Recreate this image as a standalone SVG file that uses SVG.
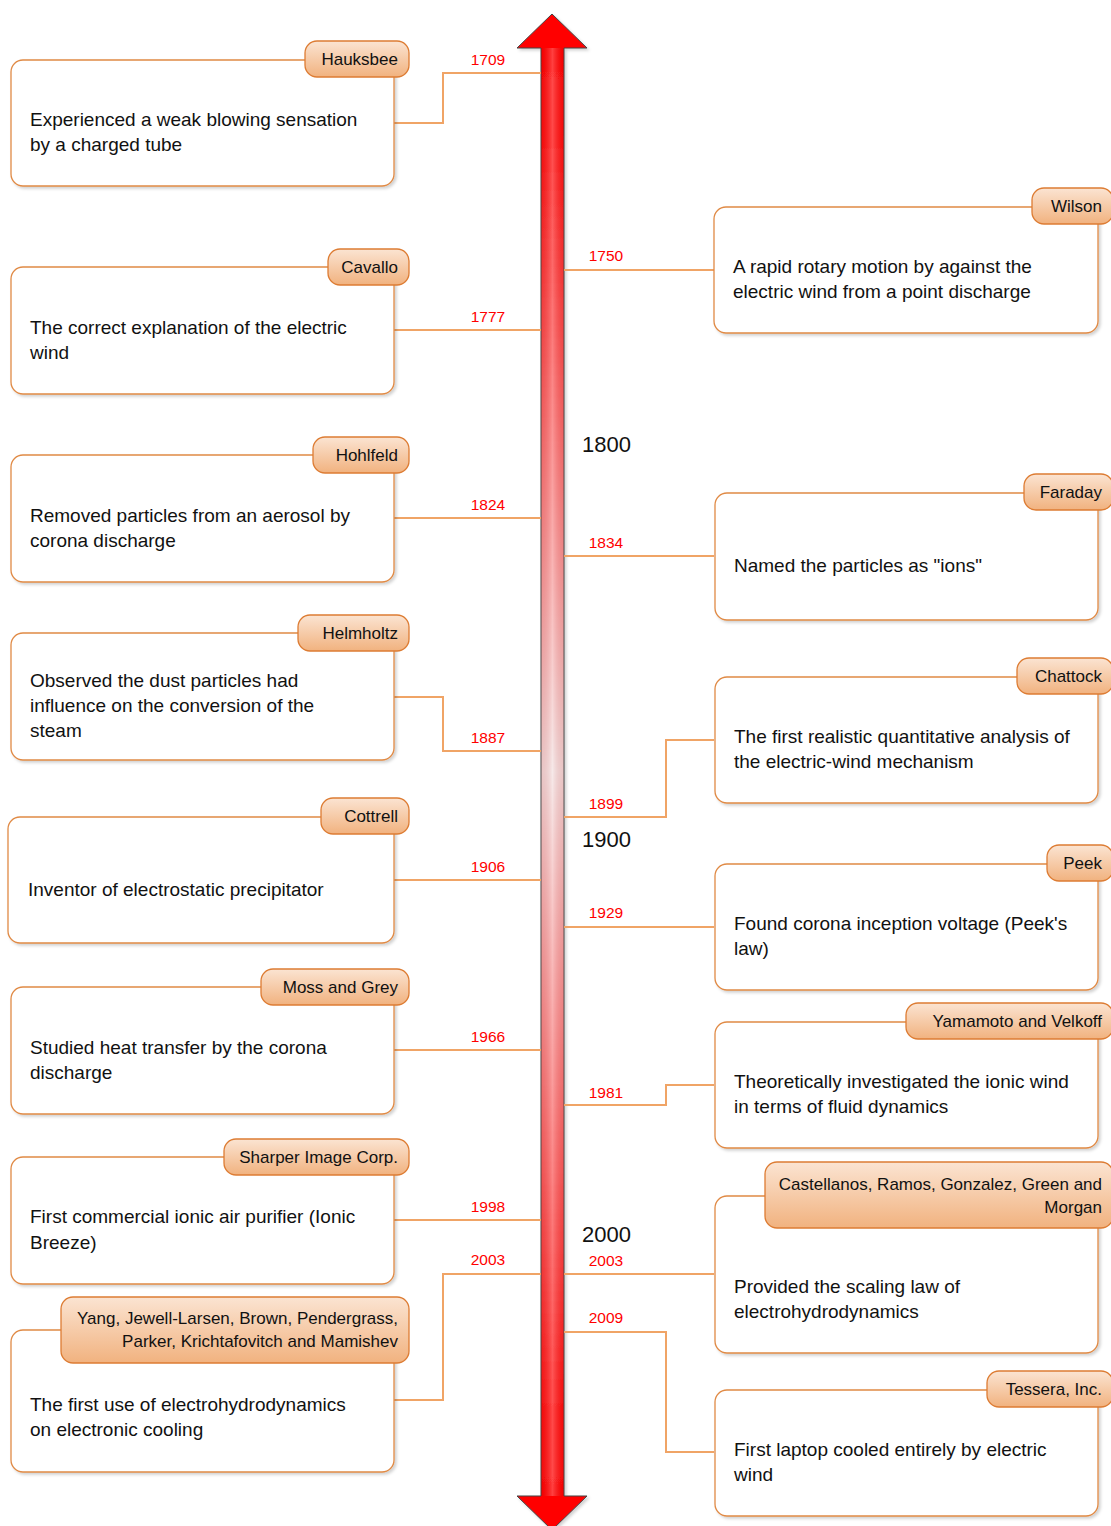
<svg xmlns="http://www.w3.org/2000/svg" width="1111" height="1526" viewBox="0 0 1111 1526">
<defs>
<linearGradient id="shaftV" gradientUnits="userSpaceOnUse" x1="0" y1="14" x2="0" y2="1530">
<stop offset="0" stop-color="#ff0000"/>
<stop offset="0.08" stop-color="#ff0d0d"/>
<stop offset="0.5" stop-color="#f3e2e2"/>
<stop offset="0.92" stop-color="#ff1010"/>
<stop offset="1" stop-color="#ff0000"/>
</linearGradient>
<linearGradient id="shaftH" x1="0" y1="0" x2="1" y2="0">
<stop offset="0" stop-color="#a00000" stop-opacity="0.12"/>
<stop offset="0.5" stop-color="#ffffff" stop-opacity="0.25"/>
<stop offset="1" stop-color="#a00000" stop-opacity="0.12"/>
</linearGradient>
<linearGradient id="tagFill" x1="0" y1="0" x2="0" y2="1">
<stop offset="0" stop-color="#fbe4d2"/>
<stop offset="1" stop-color="#f1b27f"/>
</linearGradient>
<filter id="sh" x="-5%" y="-5%" width="115%" height="115%">
<feDropShadow dx="2" dy="2" stdDeviation="1.5" flood-color="#000" flood-opacity="0.18"/>
</filter>
</defs>
<style>
.box{fill:#fff;stroke:#e08a45;stroke-width:1.3;filter:url(#sh)}
.tag{fill:url(#tagFill);stroke:#dd7c33;stroke-width:1.3}
.conn{fill:none;stroke:#f0a466;stroke-width:2}
.body{font-family:"Liberation Sans",Arial,sans-serif;font-size:19px;fill:#111}
.tt{font-family:"Liberation Sans",Arial,sans-serif;font-size:17px;fill:#111;text-anchor:end}
.yr{font-family:"Liberation Sans",Arial,sans-serif;font-size:15.5px;fill:#ff0000;text-anchor:middle}
.cent{font-family:"Liberation Sans",Arial,sans-serif;font-size:22px;fill:#111}
</style>
<rect width="1111" height="1526" fill="#fff"/>

<g id="timeline-arrow">
<polygon points="552,14 587,48 564,48 564,1496 587,1496 552,1530 517,1496 541,1496 541,48 517,48" fill="url(#shaftV)" stroke="#444" stroke-width="1" filter="url(#sh)"/>
<rect x="541.5" y="48" width="22" height="1448" fill="url(#shaftH)"/>
</g>

<g id="connectors">
<path class="conn" d="M394 123 H443 V73 H541"/>
<path class="conn" d="M394 330 H541"/>
<path class="conn" d="M394 518 H541"/>
<path class="conn" d="M394 697 H443 V751 H541"/>
<path class="conn" d="M394 880 H541"/>
<path class="conn" d="M394 1050 H541"/>
<path class="conn" d="M394 1220 H541"/>
<path class="conn" d="M394 1400 H443 V1274 H541"/>
<path class="conn" d="M564 270 H714"/>
<path class="conn" d="M564 556 H714"/>
<path class="conn" d="M564 817 H666 V740 H714"/>
<path class="conn" d="M564 927 H714"/>
<path class="conn" d="M564 1105 H666 V1085 H714"/>
<path class="conn" d="M564 1274 H714"/>
<path class="conn" d="M564 1332 H666 V1452 H714"/>
<text class="yr" x="488" y="65">1709</text>
<text class="yr" x="488" y="322">1777</text>
<text class="yr" x="488" y="510">1824</text>
<text class="yr" x="488" y="743">1887</text>
<text class="yr" x="488" y="872">1906</text>
<text class="yr" x="488" y="1042">1966</text>
<text class="yr" x="488" y="1212">1998</text>
<text class="yr" x="488" y="1265">2003</text>
<text class="yr" x="606" y="261">1750</text>
<text class="yr" x="606" y="548">1834</text>
<text class="yr" x="606" y="809">1899</text>
<text class="yr" x="606" y="918">1929</text>
<text class="yr" x="606" y="1098">1981</text>
<text class="yr" x="606" y="1266">2003</text>
<text class="yr" x="606" y="1323">2009</text>
</g>

<g id="centuries">
<text class="cent" x="582" y="452">1800</text>
<text class="cent" x="582" y="847">1900</text>
<text class="cent" x="582" y="1242">2000</text>
</g>

<g id="hauksbee">
<rect class="box" x="11" y="60" width="383" height="126" rx="12"/>
<rect class="tag" x="305" y="41" width="104" height="36" rx="12"/>
<text class="tt" x="398" y="65">Hauksbee</text>
<text class="body" x="30" y="126">Experienced a weak blowing sensation</text>
<text class="body" x="30" y="151">by a charged tube</text>
</g>
<g id="cavallo">
<rect class="box" x="11" y="267" width="383" height="127" rx="12"/>
<rect class="tag" x="328" y="249" width="81" height="36" rx="12"/>
<text class="tt" x="398" y="273">Cavallo</text>
<text class="body" x="30" y="334">The correct explanation of the electric</text>
<text class="body" x="30" y="359">wind</text>
</g>
<g id="hohlfeld">
<rect class="box" x="11" y="455" width="383" height="127" rx="12"/>
<rect class="tag" x="313" y="437" width="96" height="36" rx="12"/>
<text class="tt" x="398" y="461">Hohlfeld</text>
<text class="body" x="30" y="522">Removed particles from an aerosol by</text>
<text class="body" x="30" y="547">corona discharge</text>
</g>
<g id="helmholtz">
<rect class="box" x="11" y="633" width="383" height="127" rx="12"/>
<rect class="tag" x="298" y="615" width="111" height="36" rx="12"/>
<text class="tt" x="398" y="639">Helmholtz</text>
<text class="body" x="30" y="687">Observed the dust particles had</text>
<text class="body" x="30" y="712">influence on the conversion of the</text>
<text class="body" x="30" y="737">steam</text>
</g>
<g id="cottrell">
<rect class="box" x="8" y="817" width="386" height="126" rx="12"/>
<rect class="tag" x="321" y="798" width="88" height="36" rx="12"/>
<text class="tt" x="398" y="822">Cottrell</text>
<text class="body" x="28" y="896">Inventor of electrostatic precipitator</text>
</g>
<g id="moss-grey">
<rect class="box" x="11" y="987" width="383" height="127" rx="12"/>
<rect class="tag" x="261" y="969" width="148" height="36" rx="12"/>
<text class="tt" x="398" y="993">Moss and Grey</text>
<text class="body" x="30" y="1054">Studied heat transfer by the corona</text>
<text class="body" x="30" y="1079">discharge</text>
</g>
<g id="sharper">
<rect class="box" x="11" y="1157" width="383" height="127" rx="12"/>
<rect class="tag" x="224" y="1139" width="185" height="36" rx="12"/>
<text class="tt" x="398" y="1163">Sharper Image Corp.</text>
<text class="body" x="30" y="1223">First commercial ionic air purifier (Ionic</text>
<text class="body" x="30" y="1249">Breeze)</text>
</g>
<g id="yang">
<rect class="box" x="11" y="1330" width="383" height="142" rx="12"/>
<rect class="tag" x="61" y="1297" width="348" height="66" rx="12"/>
<text class="tt" x="398" y="1324">Yang, Jewell-Larsen, Brown, Pendergrass,</text>
<text class="tt" x="398" y="1347">Parker, Krichtafovitch and Mamishev</text>
<text class="body" x="30" y="1411">The first use of electrohydrodynamics</text>
<text class="body" x="30" y="1436">on electronic cooling</text>
</g>

<g id="wilson">
<rect class="box" x="714" y="207" width="384" height="126" rx="12"/>
<rect class="tag" x="1032" y="188" width="81" height="36" rx="12"/>
<text class="tt" x="1102" y="212">Wilson</text>
<text class="body" x="733" y="273">A rapid rotary motion by against the</text>
<text class="body" x="733" y="298">electric wind from a point discharge</text>
</g>
<g id="faraday">
<rect class="box" x="715" y="493" width="383" height="127" rx="12"/>
<rect class="tag" x="1024" y="474" width="89" height="36" rx="12"/>
<text class="tt" x="1102" y="498">Faraday</text>
<text class="body" x="734" y="572">Named the particles as "ions"</text>
</g>
<g id="chattock">
<rect class="box" x="715" y="677" width="383" height="126" rx="12"/>
<rect class="tag" x="1017" y="658" width="96" height="36" rx="12"/>
<text class="tt" x="1102" y="682">Chattock</text>
<text class="body" x="734" y="743">The first realistic quantitative analysis of</text>
<text class="body" x="734" y="768">the electric-wind mechanism</text>
</g>
<g id="peek">
<rect class="box" x="715" y="864" width="383" height="126" rx="12"/>
<rect class="tag" x="1047" y="845" width="66" height="36" rx="12"/>
<text class="tt" x="1102" y="869">Peek</text>
<text class="body" x="734" y="930">Found corona inception voltage (Peek's</text>
<text class="body" x="734" y="955">law)</text>
</g>
<g id="yamamoto">
<rect class="box" x="715" y="1022" width="383" height="126" rx="12"/>
<rect class="tag" x="906" y="1003" width="207" height="36" rx="12"/>
<text class="tt" x="1102" y="1027">Yamamoto and Velkoff</text>
<text class="body" x="734" y="1088">Theoretically investigated the ionic wind</text>
<text class="body" x="734" y="1113">in terms of fluid dynamics</text>
</g>
<g id="castellanos">
<rect class="box" x="715" y="1196" width="383" height="157" rx="12"/>
<rect class="tag" x="765" y="1162" width="348" height="66" rx="12"/>
<text class="tt" x="1102" y="1190">Castellanos, Ramos, Gonzalez, Green and</text>
<text class="tt" x="1102" y="1213">Morgan</text>
<text class="body" x="734" y="1293">Provided the scaling law of</text>
<text class="body" x="734" y="1318">electrohydrodynamics</text>
</g>
<g id="tessera">
<rect class="box" x="715" y="1390" width="383" height="126" rx="12"/>
<rect class="tag" x="987" y="1371" width="126" height="36" rx="12"/>
<text class="tt" x="1102" y="1395">Tessera, Inc.</text>
<text class="body" x="734" y="1456">First laptop cooled entirely by electric</text>
<text class="body" x="734" y="1481">wind</text>
</g>
</svg>
